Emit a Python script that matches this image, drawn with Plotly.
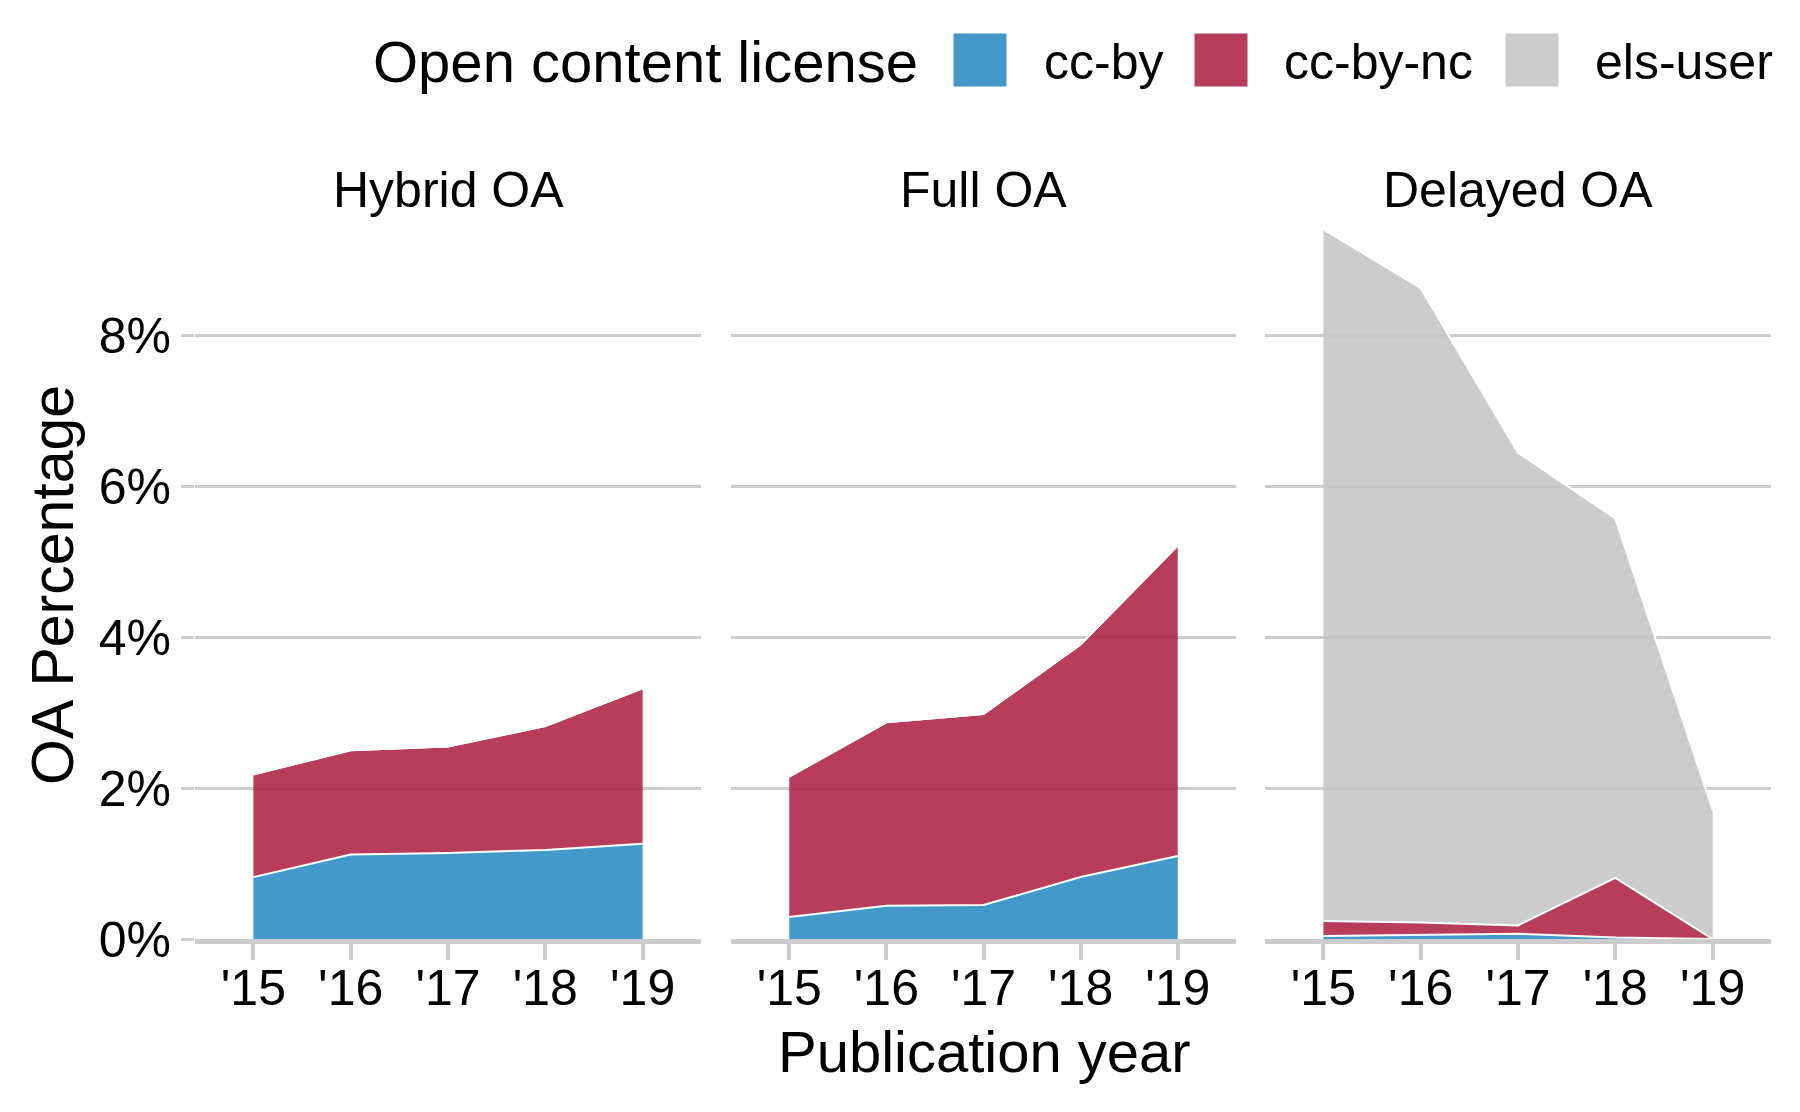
import plotly.graph_objects as go

# ---- data ----
years = [2015, 2016, 2017, 2018, 2019]
year_labels = ["'15", "'16", "'17", "'18", "'19"]
panels = ["Hybrid OA", "Full OA", "Delayed OA"]
licenses = ["cc-by", "cc-by-nc", "els-user"]

hybrid_cc_by = [0.82, 1.12, 1.14, 1.18, 1.26]
hybrid_cc_by_nc = [1.36, 1.38, 1.41, 1.64, 2.06]
hybrid_els_user = [0, 0, 0, 0, 0]

full_cc_by = [0.29, 0.44, 0.45, 0.82, 1.10]
full_cc_by_nc = [1.86, 2.43, 2.53, 3.08, 4.11]
full_els_user = [0, 0, 0, 0, 0]

delayed_cc_by = [0.04, 0.05, 0.07, 0.02, 0.0]
delayed_cc_by_nc = [0.20, 0.17, 0.11, 0.79, 0.0]
delayed_els_user = [9.16, 8.40, 6.26, 4.76, 1.71]

y_tick_vals = [0, 2, 4, 6, 8]
y_tick_text = ["0%", "2%", "4%", "6%", "8%"]

panel_data = [
    [hybrid_cc_by, hybrid_cc_by_nc, hybrid_els_user],
    [full_cc_by, full_cc_by_nc, full_els_user],
    [delayed_cc_by, delayed_cc_by_nc, delayed_els_user],
]

fills = {
    "cc-by": "rgba(45,142,196,0.9)",
    "cc-by-nc": "rgba(175,40,72,0.9)",
    "els-user": "rgba(198,198,198,0.9)",
}

# page has an 8px body margin: figure is 1784x1096 placed at (8, 8)
OFF = 8
W, H = 1800 - 2 * OFF, 1112 - 2 * OFF
FONT = "Liberation Sans, Arial, Helvetica, sans-serif"

def px(x):
    return (x - OFF) / W

def py(y):
    return 1 - (y - OFF) / H

fig = go.Figure()

for i, series in enumerate(panel_data):
    ax = "" if i == 0 else str(i + 1)
    for lic, vals in zip(licenses, series):
        fig.add_trace(go.Scatter(
            x=years, y=vals, mode="lines",
            stackgroup="p%d" % (i + 1),
            line=dict(color="white", width=2),
            fillcolor=fills[lic],
            name=lic, showlegend=False,
            xaxis="x" + ax, yaxis="y" + ax,
            hoverinfo="skip",
        ))

x_domains = [[px(195), px(701)], [px(731), px(1236)], [px(1265), px(1771)]]
y_domain = [py(939), py(939 - 9.5 * 75.5)]

layout = dict(
    width=W, height=H,
    margin=dict(l=0, r=0, t=0, b=0),
    paper_bgcolor="white", plot_bgcolor="white",
    font=dict(family=FONT, color="black", size=50),
    showlegend=False,
)

for i in range(3):
    ax = "" if i == 0 else str(i + 1)
    layout["xaxis" + ax] = dict(
        domain=x_domains[i], range=[2014.4, 2019.6],
        anchor="y" + ax,
        tickvals=years, ticktext=year_labels,
        ticks="outside", ticklen=16, tickwidth=3.5, tickcolor="#CCCCCC",
        ticklabelstandoff=-15,
        showline=True, linecolor="#CCCCCC", linewidth=5,
        showgrid=False, zeroline=False,
        tickfont=dict(size=50, family=FONT, color="black"),
        fixedrange=True, automargin=False,
    )
    layout["yaxis" + ax] = dict(
        domain=y_domain, range=[0, 9.5],
        anchor="x" + ax,
        tickvals=y_tick_vals, ticktext=y_tick_text,
        showgrid=True, gridcolor="#CCCCCC", gridwidth=3,
        zeroline=False, showline=False,
        ticks="outside" if i == 0 else "",
        ticklen=13, tickwidth=3, tickcolor="#CCCCCC",
        showticklabels=(i == 0),
        tickfont=dict(size=50, family=FONT, color="black"),
        fixedrange=True, automargin=False,
    )

fig.update_layout(**layout)

annotations = []
# strip titles
for i, name in enumerate(panels):
    annotations.append(dict(
        x=sum(x_domains[i]) / 2, y=py(190), xref="paper", yref="paper",
        text=name, showarrow=False, xanchor="center", yanchor="middle",
        font=dict(size=50, family=FONT, color="black"),
    ))
# axis titles
annotations.append(dict(
    x=px(984), y=py(1051), xref="paper", yref="paper",
    text="Publication year", showarrow=False, xanchor="center", yanchor="middle",
    font=dict(size=58, family=FONT, color="black"),
))
annotations.append(dict(
    x=px(53), y=py(585), xref="paper", yref="paper",
    text="OA Percentage", showarrow=False, xanchor="center", yanchor="middle",
    textangle=-90,
    font=dict(size=59, family=FONT, color="black"),
))
# legend
annotations.append(dict(
    x=px(371), y=py(62), xref="paper", yref="paper",
    text="Open content license", showarrow=False, xanchor="left", yanchor="middle",
    font=dict(size=58, family=FONT, color="black"),
))
key_x = [953, 1194, 1505]
label_x = [1042, 1282, 1593]
shapes = []
for lic, kx, lx in zip(licenses, key_x, label_x):
    shapes.append(dict(
        type="rect", xref="paper", yref="paper",
        x0=px(kx), x1=px(kx + 54), y0=py(87), y1=py(33),
        fillcolor=fills[lic], line=dict(color="white", width=1),
    ))
    annotations.append(dict(
        x=px(lx), y=py(62), xref="paper", yref="paper",
        text=lic, showarrow=False, xanchor="left", yanchor="middle",
        font=dict(size=50, family=FONT, color="black"),
    ))

fig.update_layout(annotations=annotations, shapes=shapes)

fig.write_html("out.html")
